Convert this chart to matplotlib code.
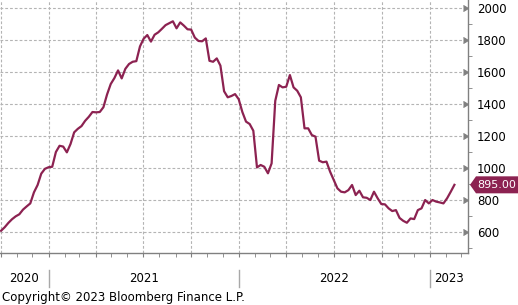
import matplotlib
matplotlib.use("Agg")
import matplotlib.pyplot as plt
import matplotlib.dates as mdates
from matplotlib.patches import Polygon
from matplotlib.ticker import MultipleLocator
import pandas as pd

# weekly readings, first week ending 2020-10-02
start_date = "2020-10-02"
values = [
    608, 630, 657, 680, 698, 711, 740, 760, 779, 848,
    894, 965, 995, 1005, 1008, 1100, 1139, 1134, 1098, 1150,
    1223, 1245, 1262, 1295, 1320, 1350, 1348, 1350, 1380, 1460,
    1525, 1562, 1610, 1560, 1620, 1650, 1664, 1668, 1760, 1808,
    1831, 1790, 1833, 1848, 1870, 1893, 1905, 1917, 1873, 1910,
    1890, 1867, 1865, 1815, 1794, 1792, 1810, 1670, 1664, 1685,
    1640, 1480, 1442, 1450, 1462, 1430, 1350, 1290, 1275, 1233,
    1004, 1019, 1008, 967, 1029, 1420, 1519, 1504, 1508, 1581,
    1504, 1483, 1442, 1248, 1248, 1206, 1196, 1046, 1036, 1040,
    977, 925, 873, 852, 848, 862, 894, 831, 858, 817,
    814, 800, 852, 811, 775, 773, 748, 731, 737, 688,
    670, 658, 685, 681, 737, 748, 800, 779, 800, 790,
    785, 779, 811, 852, 895,
]
last_label = "895.00"
years = ["2020", "2021", "2022", "2023"]
year_bounds = ["2020-09-30", "2021-01-01", "2022-01-01", "2023-01-01", "2023-03-15"]

dates = pd.date_range(start_date, periods=len(values), freq="7D")
bounds = pd.to_datetime(year_bounds)

LINE = "#8c2251"
GRAY = "#808080"
FS = 8.5

fig = plt.figure(figsize=(5.18, 3.05), dpi=100)
ax = fig.add_axes([0, 52 / 305, 468 / 518, 253 / 305])

ax.plot(dates, values, color=LINE, lw=1.6, solid_joinstyle="round")

ax.set_xlim(bounds[0], bounds[-1])
ax.set_ylim(469, 2050)

# axes frame
for s in ["top", "left"]:
    ax.spines[s].set_visible(False)
for s in ["right", "bottom"]:
    ax.spines[s].set_color(GRAY)
    ax.spines[s].set_linewidth(1.0)

# x ticks: quarterly grid, monthly ticks
ax.xaxis.set_major_locator(mdates.MonthLocator(bymonth=[1, 4, 7, 10]))
ax.xaxis.set_minor_locator(mdates.MonthLocator())
ax.tick_params(axis="x", which="both", length=3, color=GRAY, labelbottom=False)

# y ticks on the right
ax.yaxis.tick_right()
ax.yaxis.set_major_locator(MultipleLocator(200))
ax.yaxis.set_minor_locator(MultipleLocator(100))
ax.tick_params(axis="y", which="major", length=5, pad=1.5, color=GRAY,
               labelsize=FS, labelcolor="black")
ax.tick_params(axis="y", which="minor", length=3, color=GRAY)
for t in ax.yaxis.get_major_ticks():
    t.tick2line.set_marker(5)
    t.tick2line.set_markersize(5)
    t.tick2line.set_color(GRAY)

ax.grid(True, which="major", color="#b4b4b4", lw=0.8, linestyle=(0, (2.5, 1.8)))

# year labels and separators under the axis
for i, yr in enumerate(years):
    mid = bounds[i] + (bounds[i + 1] - bounds[i]) / 2
    ax.text(mid, -0.099, yr, transform=ax.get_xaxis_transform(),
            ha="center", va="center", fontsize=FS)
for b in bounds[1:-1]:
    ax.plot([b, b], [-0.067, -0.134], transform=ax.get_xaxis_transform(),
            color="#a8a8a8", lw=1.0, clip_on=False)

# last value tag
fig.canvas.draw()
yp = ax.transData.transform((mdates.date2num(dates[-1]), values[-1]))[1]
x0 = ax.bbox.x1
W = fig.bbox.width
h = 8.5
tag = Polygon([(x0 + 2, yp), (x0 + 8, yp + h), (W, yp + h), (W, yp - h), (x0 + 8, yp - h)],
              closed=True, transform=None, facecolor=LINE, edgecolor="none",
              clip_on=False, zorder=5)
fig.patches.append(tag)
fig.text((x0 + 9) / W, yp / fig.bbox.height, last_label, color="white",
         fontsize=8, ha="left", va="center", zorder=6)

fig.text(2 / 518, 8 / 305, "Copyright\u00a9 2023 Bloomberg Finance L.P.",
         fontsize=FS, ha="left", va="center")

fig.savefig("out.png", dpi=100)
